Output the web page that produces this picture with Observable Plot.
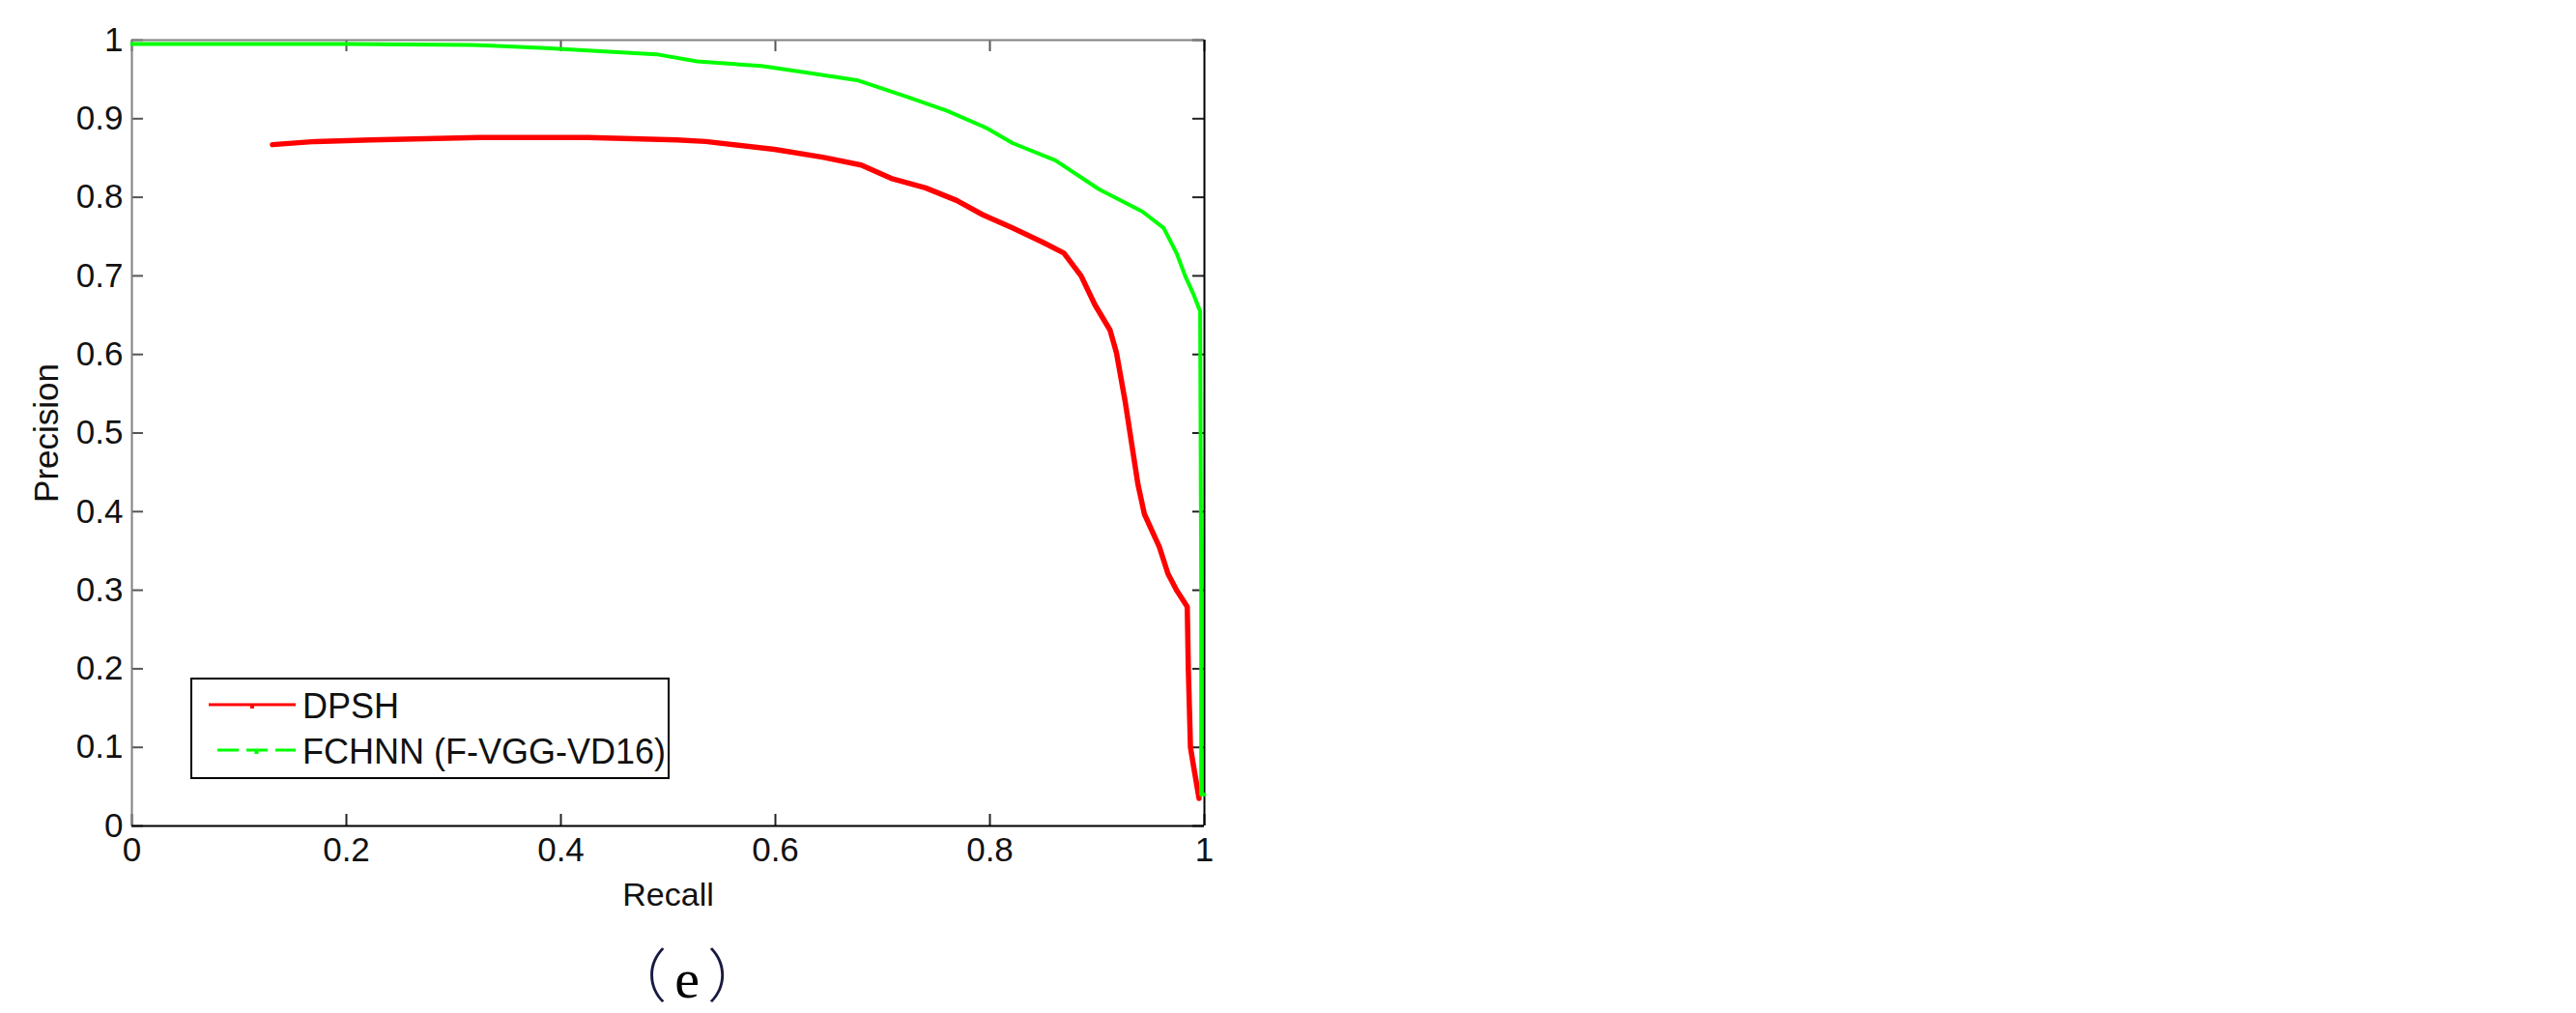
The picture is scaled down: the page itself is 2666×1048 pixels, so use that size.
<!DOCTYPE html>
<html>
<head>
<meta charset="utf-8">
<script src="https://cdn.jsdelivr.net/npm/d3@7"></script>
<script src="https://cdn.jsdelivr.net/npm/@observablehq/plot@0.6"></script>
<style>
  html, body { margin: 0; padding: 0; background: #fff; }
  body { width: 2666px; height: 1048px; overflow: hidden; position: relative; font-family: "Liberation Sans", Arial, sans-serif; }
  #chart { position: absolute; left: 0; top: 0; }
  #legend { position: absolute; left: 197px; top: 701px; width: 492px; height: 101px; border: 2px solid #000; background: #fff; }
  #legend svg { position: absolute; left: 0; top: 0; }
  #legend .lbl { position: absolute; left: 114px; font-size: 36px; line-height: 36px; color: #111; white-space: nowrap; }
  #caption { position: absolute; left: 551px; width: 320px; top: 966px; text-align: center; font-family: "Liberation Serif", serif; font-size: 58px; line-height: 80px; color: #000; }
  #caption .p { font-family: "Noto Sans CJK SC", sans-serif; font-size: 60px; font-weight: 300; color: #1a1a40; }
  #caption .p1 { margin-right: 8px; }
  #caption .p2 { margin-left: 8px; }
</style>
</head>
<body>
<div id="chart"></div>
<div id="legend"></div>
<div id="caption"><span class="p p1">（</span>e<span class="p p2">）</span></div>
<script>
// ---- data ----
const seriesNames = ["DPSH", "FCHNN (F-VGG-VD16)"];
const seriesColors = ["#ff0000", "#00ff00"];

const recallDPSH = [0.131, 0.171, 0.223, 0.324, 0.425, 0.508, 0.535, 0.599, 0.644, 0.680, 0.708, 0.740, 0.769, 0.793, 0.821, 0.849, 0.869, 0.885, 0.898, 0.912, 0.918, 0.926, 0.938, 0.944, 0.958, 0.966, 0.974, 0.984, 0.985, 0.987, 0.990, 0.995];
const precisionDPSH = [0.867, 0.871, 0.873, 0.876, 0.876, 0.873, 0.871, 0.861, 0.851, 0.841, 0.824, 0.812, 0.796, 0.778, 0.761, 0.743, 0.729, 0.700, 0.663, 0.631, 0.602, 0.541, 0.435, 0.397, 0.355, 0.321, 0.300, 0.279, 0.200, 0.100, 0.075, 0.035];

const recallFCHNN = [0, 0.1, 0.2, 0.316, 0.386, 0.437, 0.489, 0.527, 0.587, 0.627, 0.676, 0.720, 0.760, 0.797, 0.821, 0.861, 0.902, 0.942, 0.962, 0.974, 0.982, 0.990, 0.996, 0.997, 0.997, 1.0];
const precisionFCHNN = [0.995, 0.995, 0.995, 0.994, 0.990, 0.986, 0.982, 0.973, 0.967, 0.959, 0.949, 0.929, 0.910, 0.888, 0.869, 0.847, 0.810, 0.782, 0.761, 0.729, 0.700, 0.676, 0.655, 0.300, 0.040, 0.040];

const xTicks = [0, 0.2, 0.4, 0.6, 0.8, 1];
const yTicks = [0, 0.1, 0.2, 0.3, 0.4, 0.5, 0.6, 0.7, 0.8, 0.9, 1];
const xLabel = "Recall";
const yLabel = "Precision";

// ---- build ----
const dpsh = recallDPSH.map((r, i) => ({recall: r, precision: precisionDPSH[i]}));
const fchnn = recallFCHNN.map((r, i) => ({recall: r, precision: precisionFCHNN[i]}));

const W = 2666, H = 960;
const mL = 136, mR = 1420, mT = 41, mB = 106;
const plotW = W - mL - mR, plotH = H - mT - mB;
const tickLen = 12;

const chart = Plot.plot({
  width: W,
  height: H,
  marginLeft: mL, marginRight: mR, marginTop: mT, marginBottom: mB,
  style: { fontFamily: "Liberation Sans, Arial, sans-serif", fontSize: "35px", color: "#111", background: "#fff", overflow: "visible" },
  x: { domain: [0, 1], axis: null },
  y: { domain: [0, 1], axis: null },
  marks: [
    Plot.axisX(xTicks, { anchor: "bottom", tickSize: 0, tickPadding: 12, tickFormat: d => String(d), label: null, fontSize: 35 }),
    Plot.axisY(yTicks, { anchor: "left", tickSize: 0, tickPadding: 9, tickFormat: d => String(d), label: null, fontSize: 35 }),
    // inward ticks on all four sides
    Plot.tickX(xTicks, { x: d => d, insetTop: plotH - tickLen, stroke: "#222", strokeWidth: 2 }),
    Plot.tickX(xTicks, { x: d => d, insetBottom: plotH - tickLen, stroke: "#555", strokeWidth: 2 }),
    Plot.tickY(yTicks, { y: d => d, insetRight: plotW - tickLen, stroke: "#555", strokeWidth: 2 }),
    Plot.tickY(yTicks, { y: d => d, insetLeft: plotW - tickLen, stroke: "#222", strokeWidth: 2 }),
    // box
    Plot.ruleX([0], { stroke: "#808080", strokeWidth: 2 }),
    Plot.ruleY([1], { stroke: "#808080", strokeWidth: 2 }),
    Plot.ruleX([1], { stroke: "#000", strokeWidth: 2 }),
    Plot.ruleY([0], { stroke: "#000", strokeWidth: 2 }),
    // curves
    Plot.line(dpsh, { x: "recall", y: "precision", stroke: seriesColors[0], strokeWidth: 5.5, strokeLinejoin: "round" }),
    Plot.line(fchnn, { x: "recall", y: "precision", stroke: seriesColors[1], strokeWidth: 4, strokeLinejoin: "round" }),
    // axis titles
    Plot.text([xLabel], { frameAnchor: "bottom", lineAnchor: "middle", dy: 72, fontSize: 34, fill: "#111" }),
    Plot.text([yLabel], { frameAnchor: "left", textAnchor: "middle", lineAnchor: "middle", dx: -88, rotate: -90, fontSize: 35, fill: "#111" })
  ]
});
document.getElementById("chart").appendChild(chart);

// ---- legend (overlaid inside plot, as in the reference) ----
const legend = d3.select("#legend");
const lsvg = legend.append("svg").attr("width", 492).attr("height", 101);
const rowsY = [26, 73];
seriesNames.forEach((name, i) => {
  const y = rowsY[i];
  const x0 = i === 0 ? 17 : 26, x1 = 107;
  lsvg.append("line")
    .attr("x1", x0).attr("x2", x1).attr("y1", y).attr("y2", y)
    .attr("stroke", seriesColors[i]).attr("stroke-width", 3)
    .attr("stroke-dasharray", i === 0 ? null : "22 8");
  lsvg.append("rect")
    .attr("x", (x0 + x1) / 2 - 2).attr("y", y - 1).attr("width", 4).attr("height", 5)
    .attr("fill", seriesColors[i]);
  legend.append("div").attr("class", "lbl").style("top", (y - 16) + "px").text(name);
});
</script>
</body>
</html>
